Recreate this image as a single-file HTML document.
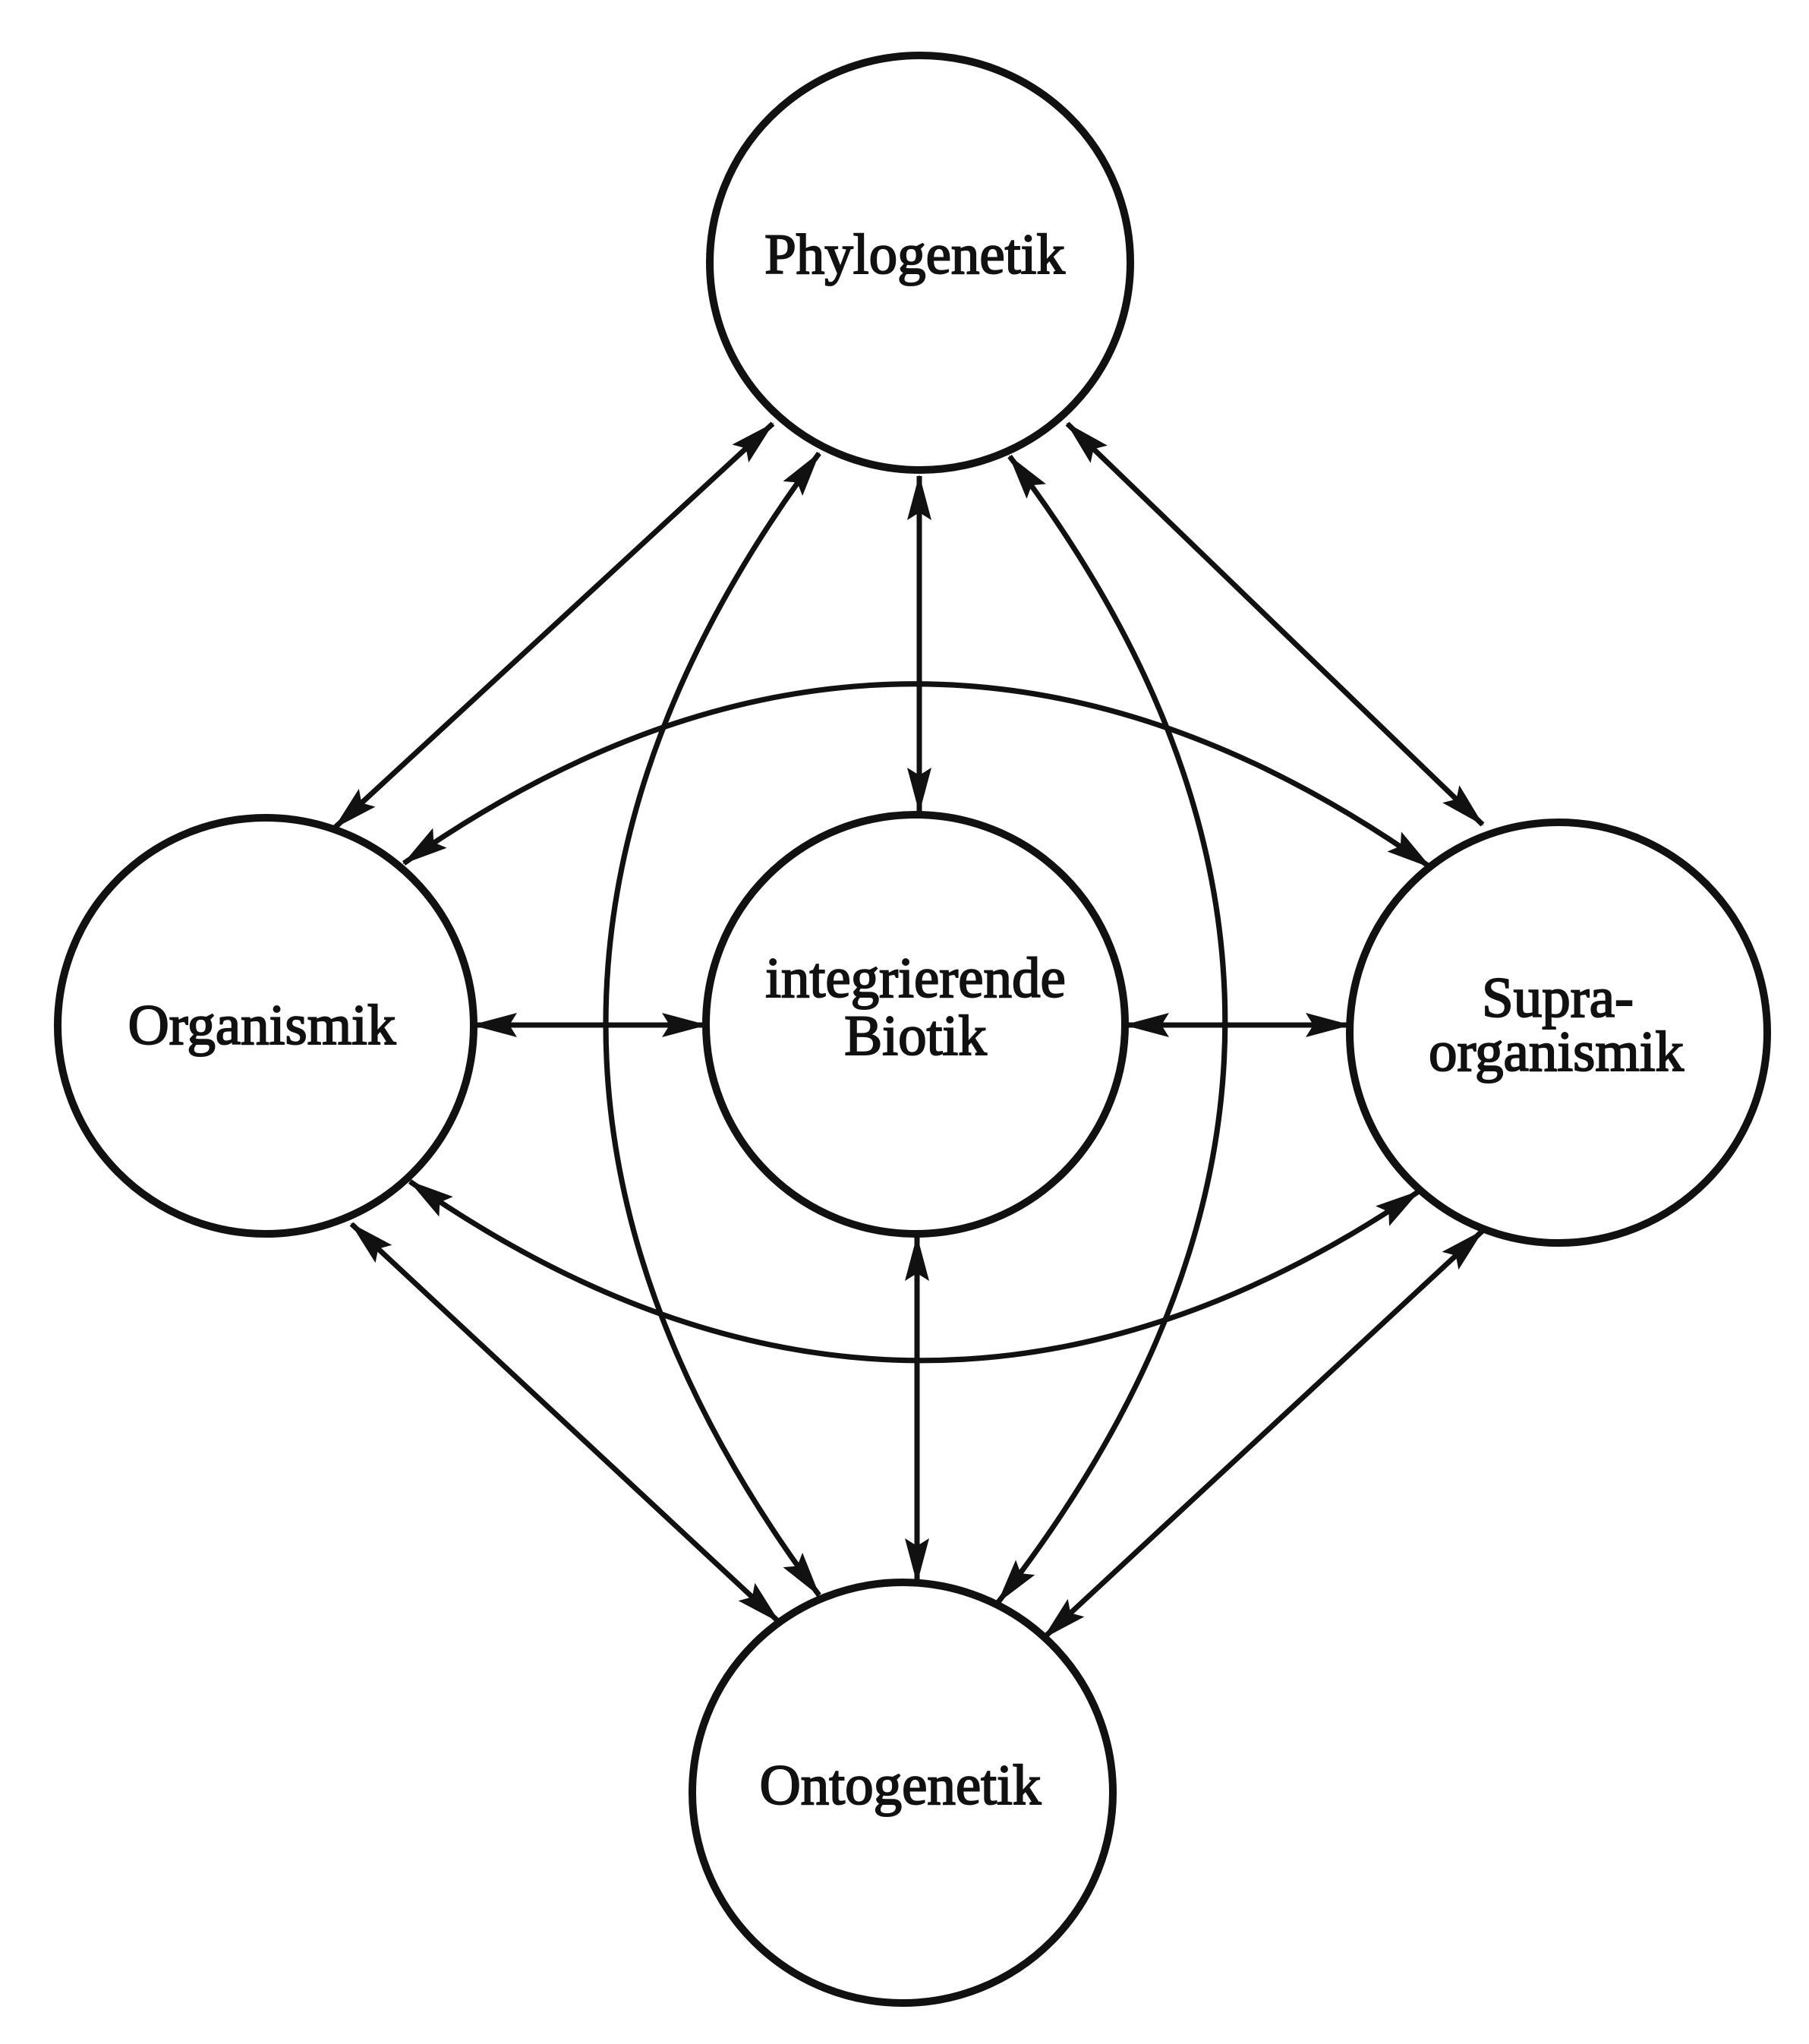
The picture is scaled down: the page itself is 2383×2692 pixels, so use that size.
<!DOCTYPE html>
<html><head><meta charset="utf-8"><style>
html,body{margin:0;padding:0;background:#fff;}
svg{display:block}
text{font-family:"Liberation Serif",serif;font-size:75px;fill:#111;stroke:#111;stroke-width:2;text-anchor:middle}
</style></head><body>
<svg width="2383" height="2692" viewBox="0 0 2383 2692" xmlns="http://www.w3.org/2000/svg">
<defs>
<marker id="a" viewBox="0 0 60 32" refX="58" refY="16" markerWidth="60" markerHeight="32" markerUnits="userSpaceOnUse" orient="auto-start-reverse">
<path d="M0,0 L60,16 L0,32 L10,16 Z" fill="#111"/>
</marker>
</defs>
<g fill="#fff" stroke="#111" stroke-width="10">
<ellipse cx="1212" cy="346" rx="277" ry="273"/>
<ellipse cx="350" cy="1351" rx="274" ry="274"/>
<ellipse cx="1206" cy="1349" rx="276" ry="276"/>
<ellipse cx="2053" cy="1360" rx="275" ry="277"/>
<ellipse cx="1189" cy="2361" rx="277" ry="277"/>
</g>
<g fill="none" stroke="#111" stroke-width="7" marker-start="url(#a)" marker-end="url(#a)">
<line x1="1018" y1="558" x2="441" y2="1090"/>
<line x1="1406" y1="558" x2="1953" y2="1086"/>
<line x1="1211" y1="627" x2="1211" y2="1069"/>
<line x1="1208" y1="1629" x2="1208" y2="2084"/>
<line x1="463" y1="1612" x2="1026" y2="2136"/>
<line x1="1953" y1="1621" x2="1375" y2="2157"/>
<line x1="623" y1="1350" x2="930" y2="1350"/>
<line x1="1482" y1="1350" x2="1778" y2="1350"/>
<path d="M1079,597 Q517,1349 1079,2101"/>
<path d="M1330,601 Q1905,1355 1315,2110"/>
<path d="M532,1137 Q1208,662 1884,1142"/>
<path d="M540,1556 Q1205,2021 1869,1569"/>
</g>
<text x="1205" y="360">Phylogenetik</text>
<text x="345" y="1375">Organismik</text>
<text x="1206" y="1313">integrierende</text>
<text x="1206" y="1389">Biotik</text>
<text x="2052" y="1339">Supra-</text>
<text x="2050" y="1410">organismik</text>
<text x="1186" y="2376">Ontogenetik</text>
</svg>
</body></html>
